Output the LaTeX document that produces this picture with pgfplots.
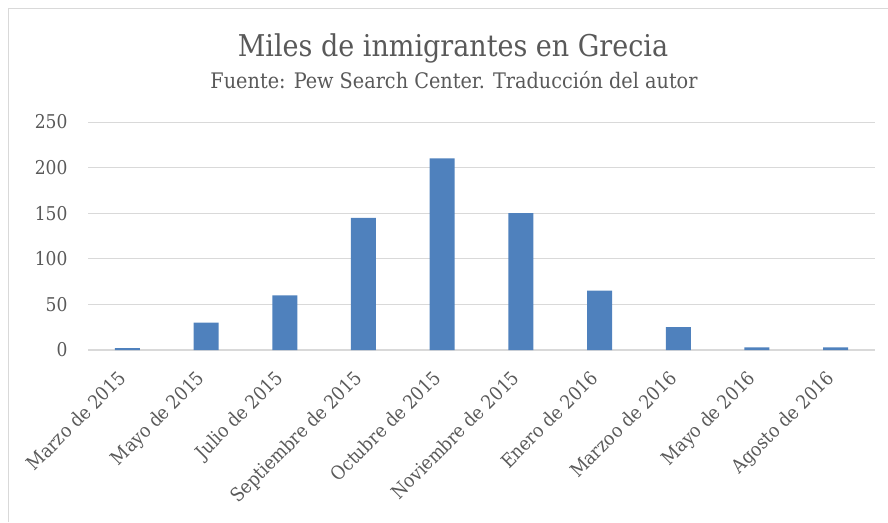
\documentclass[border=0pt]{standalone}
\usepackage{fontspec}
\setmainfont{DejaVu Serif Condensed}
\usepackage{pgfplots}
\pgfplotsset{compat=1.18}
\definecolor{barblue}{RGB}{79,129,189}
\definecolor{txtgray}{RGB}{89,89,89}
\definecolor{gridgray}{RGB}{217,217,217}
\begin{document}
\begin{tikzpicture}[x=1pt,y=1pt]
\path[use as bounding box] (0,0) rectangle (888,522);
\draw[gridgray, line width=1pt] (8,0) -- (8,513) -- (888,513);
\node[txtgray, font=\fontsize{30}{36}\selectfont] at (453,474) {Miles de inmigrantes en Grecia};
\node[txtgray, font=\fontsize{21.4}{25}\selectfont] at (454,442) {Fuente: Pew Search Center. Traducción del autor};
\begin{axis}[
  at={(88pt,172pt)}, anchor=south west,
  scale only axis, width=787pt, height=228pt,
  xmin=-0.5, xmax=9.5, ymin=0, ymax=250,
  ytick={0,50,...,250},
  xtick=data,
  xticklabels={Marzo de 2015,Mayo de 2015,Julio de 2015,Septiembre de 2015,Octubre de 2015,Noviembre de 2015,Enero de 2016,Marzoo de 2016,Mayo de 2016,Agosto de 2016},
  axis x line=bottom, axis y line=left,
  axis line style={-},
  x axis line style={gridgray, line width=1.2pt},
  y axis line style={draw=none},
  major tick length=0pt,
  ymajorgrids, grid style={gridgray, line width=1pt},
  tick label style={txtgray, font=\fontsize{19}{22}\selectfont},
  /pgf/number format/assume math mode=true,
  yticklabel style={xshift=-17pt},
  xticklabel style={rotate=45, anchor=north east, xshift=-17.5pt, yshift=-2.5pt},
  ybar, bar width=25pt,
]
\addplot[fill=barblue, draw=none] coordinates {
(0,2) (1,30) (2,60) (3,145) (4,210) (5,150) (6,65) (7,25) (8,3) (9,3)
};
\end{axis}
\end{tikzpicture}
\end{document}
